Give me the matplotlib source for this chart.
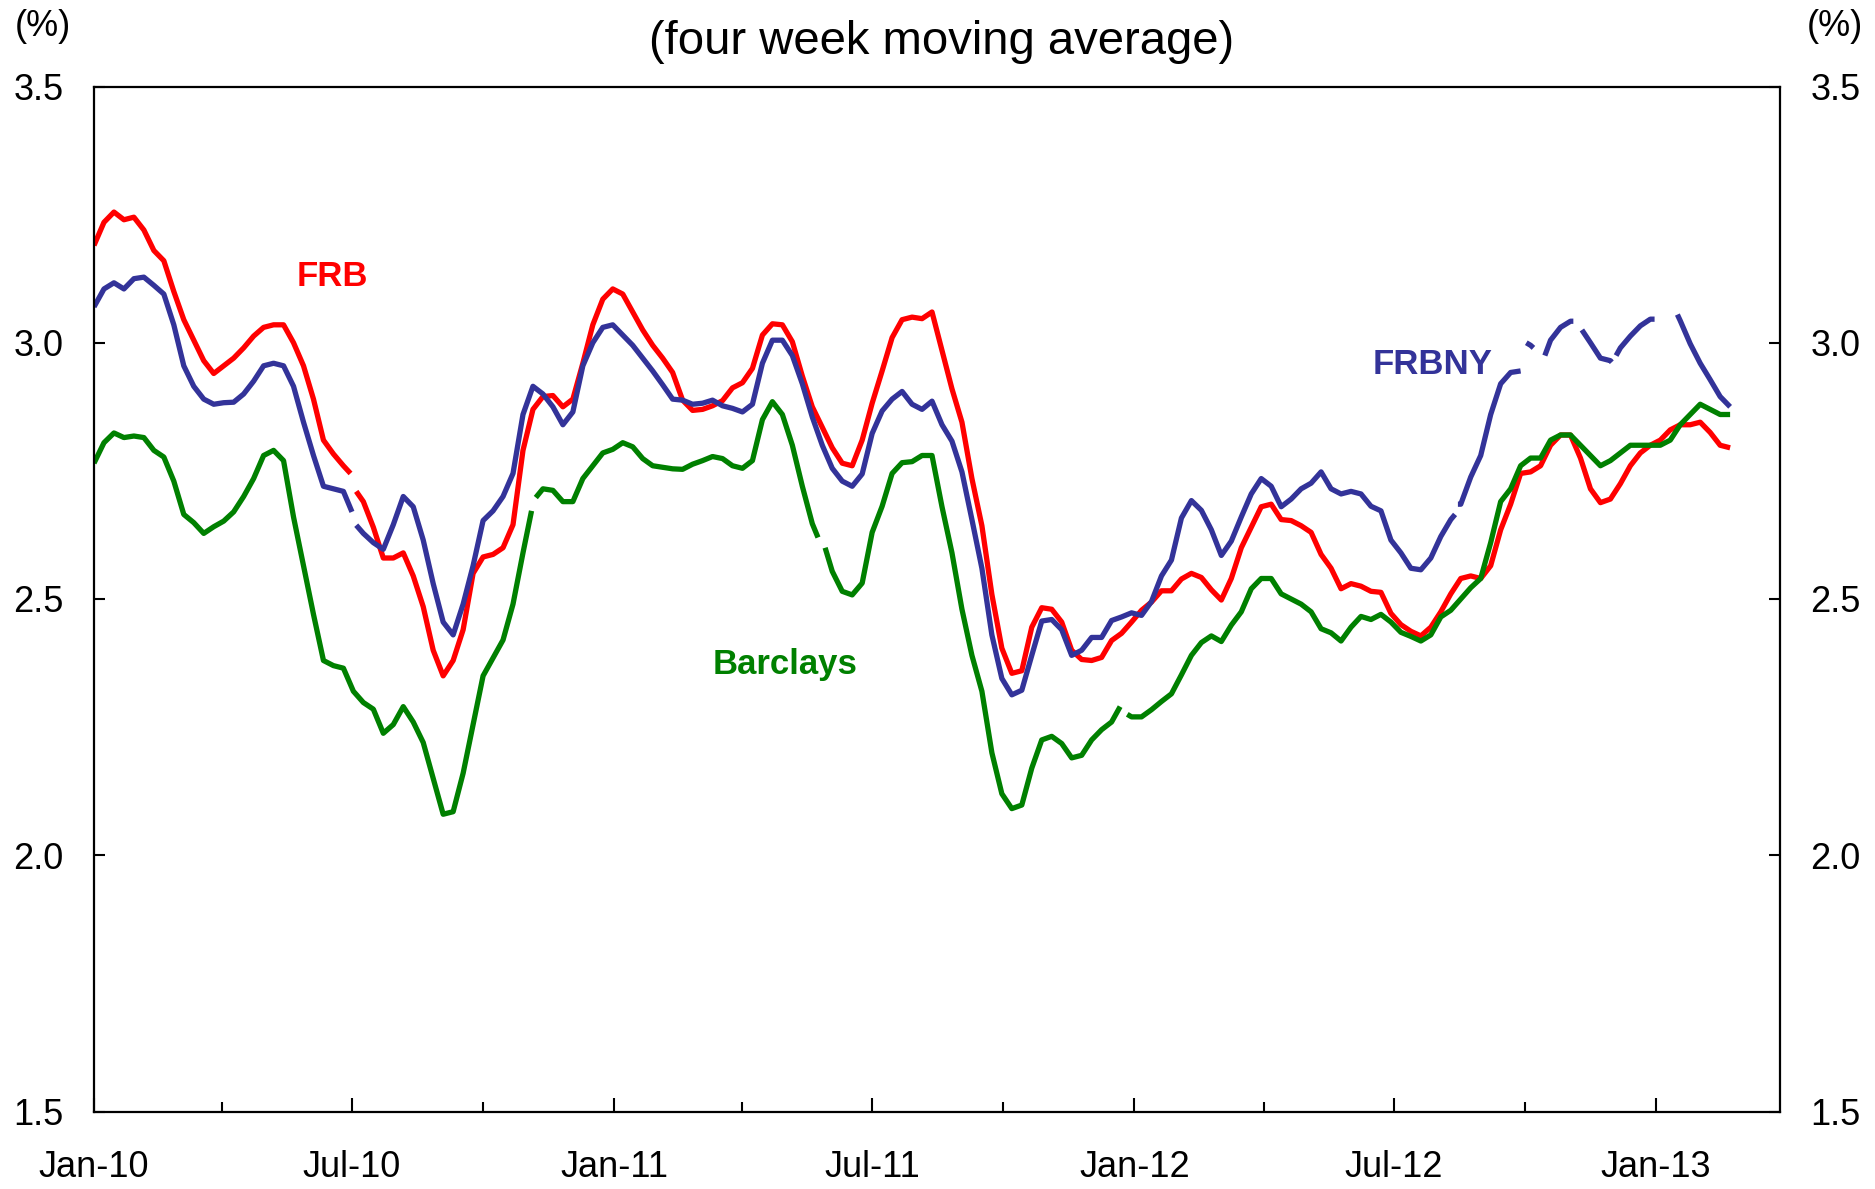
import numpy as np
import pandas as pd
import matplotlib
matplotlib.use("Agg")
import matplotlib.pyplot as plt
import matplotlib.dates as mdates
from matplotlib.ticker import FixedLocator, FormatStrFormatter

plt.rcParams['font.family'] = ['Liberation Sans', 'DejaVu Sans']

# ---------------- data (weekly, four week moving average, %) ----------------
start_date = '2010-01-01'
n_weeks = 165

frb = [3.19, 3.235, 3.255, 3.24, 3.245, 3.22, 3.18, 3.16, 3.10, 3.045,
       3.005, 2.965, 2.94, 2.955, 2.97, 2.99, 3.013, 3.03, 3.035, 3.035,
       3.00, 2.955, 2.89, 2.81, 2.783, 2.76, 2.72, 2.69, 2.64, 2.58,
       2.58, 2.59, 2.545, 2.485, 2.40, 2.35, 2.38, 2.44, 2.55, 2.582,
       2.587, 2.60, 2.645, 2.79, 2.87, 2.895, 2.897, 2.875, 2.89, 2.96,
       3.035, 3.085, 3.105, 3.095, 3.06, 3.025, 2.995, 2.97, 2.942, 2.888,
       2.868, 2.87, 2.877, 2.887, 2.912, 2.922, 2.95, 3.015, 3.037, 3.035,
       3.002, 2.935, 2.875, 2.835, 2.795, 2.765, 2.76, 2.81, 2.882, 2.945,
       3.01, 3.045, 3.05, 3.047, 3.06, 2.985, 2.91, 2.845, 2.735, 2.643,
       2.509, 2.404, 2.355, 2.36, 2.445, 2.483, 2.48, 2.455, 2.40, 2.382,
       2.38, 2.386, 2.419, 2.433, 2.455, 2.478, 2.494, 2.516, 2.516, 2.539,
       2.55, 2.542, 2.518, 2.498, 2.54, 2.60, 2.64, 2.68, 2.685, 2.655,
       2.653, 2.643, 2.63, 2.587, 2.56, 2.52, 2.53, 2.525, 2.515, 2.513,
       2.472, 2.45, 2.437, 2.428, 2.445, 2.475, 2.51, 2.54, 2.545, 2.54,
       2.565, 2.635, 2.685, 2.745, 2.748, 2.76, 2.80, 2.82, 2.82, 2.775,
       2.715, 2.688, 2.695, 2.725, 2.76, 2.785, 2.80, 2.81, 2.83, 2.84,
       2.84, 2.845, 2.825, 2.80, 2.795]

frbny = [3.07, 3.105, 3.117, 3.105, 3.125, 3.128, 3.112, 3.095, 3.035, 2.955,
         2.915, 2.89, 2.88, 2.883, 2.884, 2.90, 2.925, 2.955, 2.96, 2.955,
         2.915, 2.845, 2.78, 2.72, 2.715, 2.71, 2.64, 2.628, 2.61, 2.597,
         2.645, 2.70, 2.68, 2.615, 2.53, 2.455, 2.43, 2.49, 2.565, 2.653,
         2.672, 2.70, 2.745, 2.86, 2.915, 2.90, 2.875, 2.84, 2.865, 2.955,
         3.00, 3.03, 3.035, 3.015, 2.995, 2.97, 2.945, 2.918, 2.89, 2.888,
         2.88, 2.882, 2.888, 2.877, 2.872, 2.865, 2.88, 2.96, 3.005, 3.005,
         2.975, 2.92, 2.855, 2.80, 2.755, 2.73, 2.72, 2.744, 2.823, 2.867,
         2.89, 2.905, 2.88, 2.87, 2.886, 2.84, 2.808, 2.748, 2.655, 2.56,
         2.43, 2.345, 2.313, 2.322, 2.39, 2.457, 2.46, 2.44, 2.39, 2.40,
         2.425, 2.425, 2.458, 2.465, 2.473, 2.468, 2.495, 2.545, 2.576, 2.658,
         2.692, 2.673, 2.635, 2.585, 2.613, 2.66, 2.705, 2.735, 2.72, 2.68,
         2.695, 2.715, 2.726, 2.748, 2.715, 2.705, 2.71, 2.705, 2.681, 2.672,
         2.615, 2.59, 2.56, 2.557, 2.58, 2.622, 2.655, 2.685, 2.738, 2.78,
         2.86, 2.92, 2.942, 2.945, 2.995, np.nan, 3.005, 3.03, 3.042, np.nan,
         3.00, 2.97, 2.965, 2.99, 3.013, 3.033, 3.046, np.nan, np.nan, 3.043,
         2.998, 2.96, 2.928, 2.895, 2.875]

barclays = [2.765, 2.805, 2.824, 2.815, 2.818, 2.815, 2.79, 2.777, 2.73, 2.665,
            2.649, 2.628, 2.641, 2.652, 2.67, 2.70, 2.735, 2.78, 2.79, 2.77,
            2.66, 2.565, 2.47, 2.38, 2.37, 2.365, 2.32, 2.298, 2.285, 2.238,
            2.255, 2.29, 2.26, 2.22, 2.15, 2.08, 2.085, 2.16, 2.255, 2.35,
            2.385, 2.42, 2.49, 2.59, 2.70, 2.715, 2.712, 2.69, 2.69, 2.735,
            2.76, 2.785, 2.792, 2.805, 2.797, 2.774, 2.76, 2.757, 2.754, 2.753,
            2.763, 2.77, 2.778, 2.774, 2.76, 2.755, 2.77, 2.85, 2.885, 2.86,
            2.80, 2.72, 2.647, 2.60, 2.554, 2.515, 2.508, 2.531, 2.63, 2.681,
            2.745, 2.766, 2.768, 2.78, 2.78, 2.68, 2.59, 2.48, 2.39, 2.32,
            2.20, 2.12, 2.091, 2.098, 2.17, 2.225, 2.232, 2.218, 2.19, 2.195,
            2.225, 2.245, 2.26, 2.285, 2.27, 2.27, 2.284, 2.30, 2.315, 2.352,
            2.39, 2.415, 2.428, 2.417, 2.449, 2.475, 2.52, 2.54, 2.54, 2.51,
            2.50, 2.49, 2.475, 2.442, 2.434, 2.418, 2.445, 2.466, 2.46, 2.47,
            2.455, 2.435, 2.427, 2.418, 2.43, 2.465, 2.478, 2.50, 2.522, 2.54,
            2.61, 2.69, 2.715, 2.76, 2.775, 2.775, 2.81, 2.82, 2.82, 2.80,
            2.78, 2.76, 2.77, 2.785, 2.80, 2.80, 2.80, 2.80, 2.81, 2.84,
            2.86, 2.88, 2.87, 2.86, 2.86]

# breaks in the lines (missing observations):
# (last date before the break, value there, first date after, value there)
frb_gaps = [('2010-06-30', 2.745, '2010-07-04', 2.71)]
frbny_gaps = [('2010-07-01', 2.67, '2010-07-04', 2.644),
              ('2012-08-13', 2.665, '2012-08-15', 2.685),
              ('2012-09-28', 2.945, '2012-10-02', 3.00),
              ('2012-10-07', 2.99, '2012-10-15', 2.975),
              ('2012-11-04', 3.042, '2012-11-10', 3.025),
              ('2012-12-01', 2.962, '2012-12-04', 2.975),
              ('2012-12-31', 3.046, '2013-01-16', 3.055)]
barclays_gaps = [('2010-11-04', 2.672, '2010-11-07', 2.698),
                 ('2011-05-24', 2.62, '2011-05-29', 2.60),
                 ('2011-12-22', 2.29, '2011-12-27', 2.275)]

series_names = ['FRB', 'FRBNY', 'Barclays']
y_ticks = [1.5, 2.0, 2.5, 3.0, 3.5]
title_text = '(four week moving average)'
unit_text = '(%)'

# ---------------- build series ----------------
weeks = pd.date_range(start_date, periods=n_weeks, freq='7D')


def build(vals, gaps):
    s = pd.Series(vals, index=weeks, dtype=float)
    parts = []
    for d0, v0, d1, v1 in gaps:
        d0, d1 = pd.Timestamp(d0), pd.Timestamp(d1)
        s = s[(s.index < d0) | (s.index > d1)]
        mid = d0 + (d1 - d0) / 2
        parts.append(pd.Series([v0, np.nan, v1], index=[d0, mid, d1], dtype=float))
    return pd.concat([s] + parts).sort_index()


s_frb = build(frb, frb_gaps)
s_frbny = build(frbny, frbny_gaps)
s_bar = build(barclays, barclays_gaps)

RED = '#FF0000'
BLUE = '#333399'
GREEN = '#008000'

# ---------------- figure ----------------
W, H = 1875, 1189
fig = plt.figure(figsize=(W / 100, H / 100), dpi=100)
ax = fig.add_axes([94 / W, 1 - 1111.5 / H, (1780 - 94) / W, (1111.5 - 86.5) / H])

lw = 3.8
ax.plot(s_frb.index, s_frb.values, color=RED, lw=lw, solid_capstyle='butt',
        solid_joinstyle='round')
ax.plot(s_frbny.index, s_frbny.values, color=BLUE, lw=lw, solid_capstyle='butt',
        solid_joinstyle='round')
ax.plot(s_bar.index, s_bar.values, color=GREEN, lw=lw, solid_capstyle='butt',
        solid_joinstyle='round')

ax.set_ylim(1.5, 3.5)
ax.set_xlim(pd.Timestamp('2010-01-01'), pd.Timestamp('2013-03-29'))

ax.yaxis.set_major_locator(FixedLocator(y_ticks))
ax.yaxis.set_major_formatter(FormatStrFormatter('%.1f'))
ax.xaxis.set_major_locator(mdates.MonthLocator(bymonth=[1, 7]))
ax.xaxis.set_minor_locator(mdates.MonthLocator(bymonth=[4, 10]))
ax.xaxis.set_major_formatter(mdates.DateFormatter('%b-%y'))

for sp in ax.spines.values():
    sp.set_linewidth(1.6)
    sp.set_color('black')

ax.tick_params(axis='y', which='major', direction='in', length=8, width=1.5,
               left=True, right=True, labelleft=True, labelright=True,
               labelsize=26, pad=22)
ax.tick_params(axis='x', which='major', direction='in', length=10, width=1.5,
               top=False, labelsize=26, pad=28)
ax.tick_params(axis='x', which='minor', direction='in', length=7, width=1.5,
               top=False)

# series labels
lab_kw = dict(fontsize=25, fontweight='bold', ha='center', va='center')
ax.text(pd.Timestamp('2010-06-17'), 3.13, series_names[0], color=RED, **lab_kw)
ax.text(pd.Timestamp('2012-07-28'), 2.958, series_names[1], color=BLUE, **lab_kw)
ax.text(pd.Timestamp('2011-05-01'), 2.373, series_names[2], color=GREEN, **lab_kw)

# title and unit labels
fig.text(942 / W, 1 - 42 / H, title_text, fontsize=34, ha='center', va='center')
fig.text(43 / W, 1 - 26 / H, unit_text, fontsize=26, ha='center', va='center')
fig.text(1835 / W, 1 - 26 / H, unit_text, fontsize=26, ha='center', va='center')

fig.savefig('out.png', dpi=100)
